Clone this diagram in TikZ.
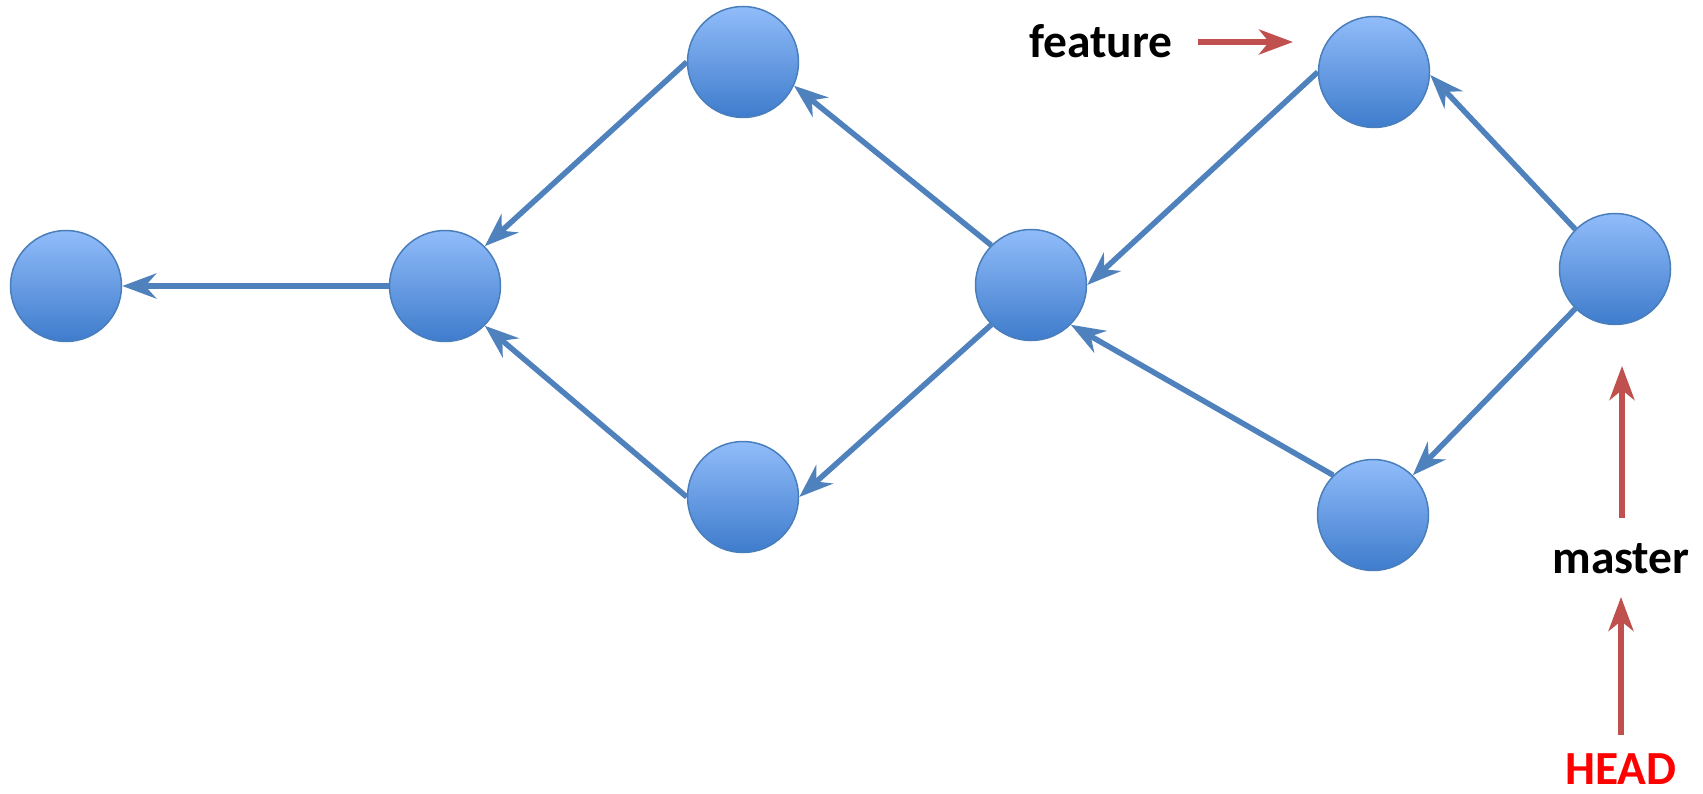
\documentclass[tikz,border=0pt]{standalone}
\usepackage{fontspec}
\setmainfont{Carlito}
\usetikzlibrary{arrows.meta}
\definecolor{edgeblue}{RGB}{79,129,189}
\definecolor{rimblue}{RGB}{74,126,187}
\definecolor{topblue}{RGB}{145,188,250}
\definecolor{botblue}{RGB}{62,124,204}
\definecolor{refred}{RGB}{192,80,77}
\definecolor{headred}{RGB}{255,0,0}
\tikzset{
  commit/.style={circle, minimum size=111pt, inner sep=0pt, draw=rimblue,
    line width=1.5pt, top color=topblue, bottom color=botblue},
  parent/.style={draw=edgeblue, line width=5.5pt,
    -{Stealth[length=34pt, width=25pt, inset=11pt]}},
  pointer/.style={draw=refred, line width=5.5pt,
    -{Stealth[length=34pt, width=25pt, inset=10pt]}},
  refname/.style={font=\fontsize{47.5}{56}\selectfont\bfseries, inner sep=0pt, anchor=base}
}
\begin{document}
\begin{tikzpicture}[x=1pt, y=-1pt]
  \useasboundingbox (0,0) rectangle (1703,794);

  % commits
  \node[commit] (c1) at (66,286) {};
  \node[commit] (c2) at (445,286) {};
  \node[commit] (c3) at (743,62) {};
  \node[commit] (c4) at (743,497) {};
  \node[commit] (c5) at (1031,285) {};
  \node[commit] (c6) at (1374,72) {};
  \node[commit] (c7) at (1373,515) {};
  \node[commit] (c8) at (1615,269) {};

  % parent links
  \draw[parent] (c2.west) -- (c1.east);
  \draw[parent] (c3.west) -- (c2.north east);
  \draw[parent] (c4.west) -- (c2.south east);
  \draw[parent] (c5.north west) -- (c3.-25);
  \draw[parent] (c5.south west) -- (c4.east);
  \draw[parent] (c6.west) -- (c5.east);
  \draw[parent] (c7.north west) -- (c5.south east);
  \draw[parent] (c8.north west) -- (c6.-3);
  \draw[parent] (c8.south west) -- (c7.north east);

  % references
  \node[refname] (feature) at (1101,58) {feature};
  \node[refname] (master) at (1621,573) {master};
  \node[refname, text=headred] (head) at (1621,784) {HEAD};

  \coordinate (ftail) at (1198,42);
  \coordinate (ftip) at (1293,42);
  \draw[pointer] (ftail) -- (ftip);
  \coordinate (mtail) at (1622,518);
  \coordinate (mtip) at (1622,366);
  \draw[pointer] (mtail) -- (mtip);
  \coordinate (htail) at (1621,735);
  \coordinate (htip) at (1621,597);
  \draw[pointer] (htail) -- (htip);
\end{tikzpicture}
\end{document}
